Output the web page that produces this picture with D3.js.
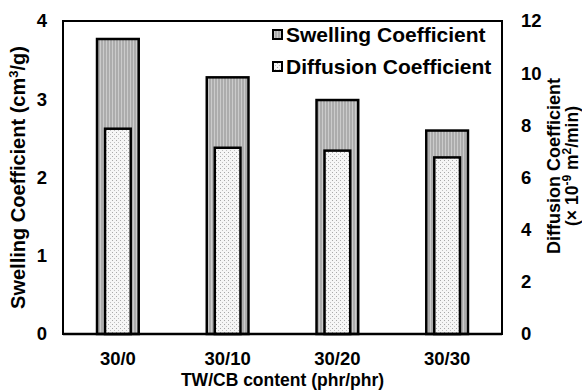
<!DOCTYPE html>
<html><head><meta charset="utf-8">
<script src="https://cdn.jsdelivr.net/npm/d3@7"></script>
<style>body{margin:0;background:#fff}svg{display:block}text{font-family:"Liberation Sans",Arial,sans-serif;font-weight:bold;fill:#000}</style>
</head><body>
<script>
const categories = ["30/0","30/10","30/20","30/30"];
const swelling = [3.77, 3.28, 2.99, 2.60];
const diffusion = [7.87, 7.14, 7.03, 6.77];
const leftTicks = [0,1,2,3,4];
const rightTicks = [0,2,4,6,8,10,12];

const W=582,H=390, L=63, R=502, T=21, B=334;
const svg=d3.select("body").append("svg").attr("width",W).attr("height",H);
const defs=svg.append("defs");
const sp=defs.append("pattern").attr("id","swp").attr("patternUnits","userSpaceOnUse").attr("width",3).attr("height",3);
sp.append("rect").attr("width",3).attr("height",3).attr("fill","#acacac");
sp.append("rect").attr("x",1).attr("width",1).attr("height",3).attr("fill","#cbcbcb");
const dp=defs.append("pattern").attr("id","dfp").attr("patternUnits","userSpaceOnUse").attr("width",4).attr("height",4);
dp.append("rect").attr("width",4).attr("height",4).attr("fill","#f6f6f6");
dp.append("rect").attr("x",0).attr("y",0).attr("width",1).attr("height",1).attr("fill","#a8a8a8");
dp.append("rect").attr("x",2).attr("y",2).attr("width",1).attr("height",1).attr("fill","#c0c0c0");

const x=d3.scaleBand().domain(categories).range([L,R]);
const yL=d3.scaleLinear().domain([0,4]).range([B,T]);
const yR=d3.scaleLinear().domain([0,12]).range([B,T]);
const bw=x.bandwidth();

// swelling bars
svg.append("g").selectAll("rect").data(categories).join("rect")
 .attr("x",d=>x(d)+bw/2-bw*0.19).attr("width",bw*0.38)
 .attr("y",(d,i)=>yL(swelling[i])).attr("height",(d,i)=>B-yL(swelling[i]))
 .attr("fill","url(#swp)").attr("stroke","#000").attr("stroke-width",2.5);
// diffusion bars
svg.append("g").selectAll("rect").data(categories).join("rect")
 .attr("x",d=>x(d)+bw/2-bw*0.117).attr("width",bw*0.234)
 .attr("y",(d,i)=>yR(diffusion[i])).attr("height",(d,i)=>B-yR(diffusion[i]))
 .attr("fill","url(#dfp)").attr("stroke","#000").attr("stroke-width",2.5);

// frame
svg.append("rect").attr("x",L).attr("y",T).attr("width",R-L).attr("height",B-T)
 .attr("fill","none").attr("stroke","#000").attr("stroke-width",2);
svg.append("line").attr("x1",L).attr("x2",R).attr("y1",B).attr("y2",B).attr("stroke","#000").attr("stroke-width",2.5);

const tf="Liberation Sans, Arial, sans-serif";
// left axis
const gl=svg.append("g").attr("transform",`translate(${L},0)`).call(d3.axisLeft(yL).tickValues(leftTicks).tickSize(0).tickPadding(16).tickFormat(d3.format("d")));
gl.select(".domain").remove();
gl.selectAll("text").style("font-size","18.5px").style("font-family",tf).style("font-weight","bold");
// right axis
const gr=svg.append("g").attr("transform",`translate(${R},0)`).call(d3.axisRight(yR).tickValues(rightTicks).tickSize(0).tickPadding(19).tickFormat(d3.format("d")));
gr.select(".domain").remove();
gr.selectAll("text").style("font-size","18.5px").style("font-family",tf).style("font-weight","bold");
// bottom axis
const gb=svg.append("g").attr("transform",`translate(0,${B})`).call(d3.axisBottom(x).tickSize(0).tickPadding(18));
gb.select(".domain").remove();
gb.selectAll("text").style("font-size","18.5px").style("font-family",tf).style("font-weight","bold");

// titles
svg.append("text").attr("x",(L+R)/2).attr("y",386).attr("text-anchor","middle").style("font-size","17.5px").text("TW/CB content (phr/phr)");
const lt=svg.append("text").attr("transform",`translate(25,${(T+B)/2}) rotate(-90)`).attr("text-anchor","middle").style("font-size","20px");
lt.append("tspan").text("Swelling Coefficient (cm");
lt.append("tspan").attr("dy",-7).style("font-size","13px").text("3");
lt.append("tspan").attr("dy",7).text("/g)");
const rt=svg.append("g").attr("transform",`translate(560,166) rotate(-90)`);
rt.append("text").attr("text-anchor","middle").attr("y",0).style("font-size","18px").text("Diffusion Coefficient");
const r2=rt.append("text").attr("text-anchor","middle").attr("y",17.5).style("font-size","17.5px");
r2.append("tspan").text("(× 10");
r2.append("tspan").attr("dy",-7).style("font-size","12px").text("-9");
r2.append("tspan").attr("dy",7).text(" m");
r2.append("tspan").attr("dy",-7).style("font-size","12px").text("2");
r2.append("tspan").attr("dy",7).text("/min)");

// legend
const legend=[{name:"Swelling Coefficient",fill:"url(#swp)",y:35},{name:"Diffusion Coefficient",fill:"url(#dfp)",y:67}];
const lg=svg.append("g").selectAll("g").data(legend).join("g").attr("transform",d=>`translate(273,${d.y})`);
lg.append("rect").attr("x",0).attr("y",-5).attr("width",9).attr("height",9).attr("fill",d=>d.fill).attr("stroke","#000").attr("stroke-width",2);
lg.append("text").attr("x",13).attr("y",7).style("font-size","21px").text(d=>d.name);
</script>
</body></html>
